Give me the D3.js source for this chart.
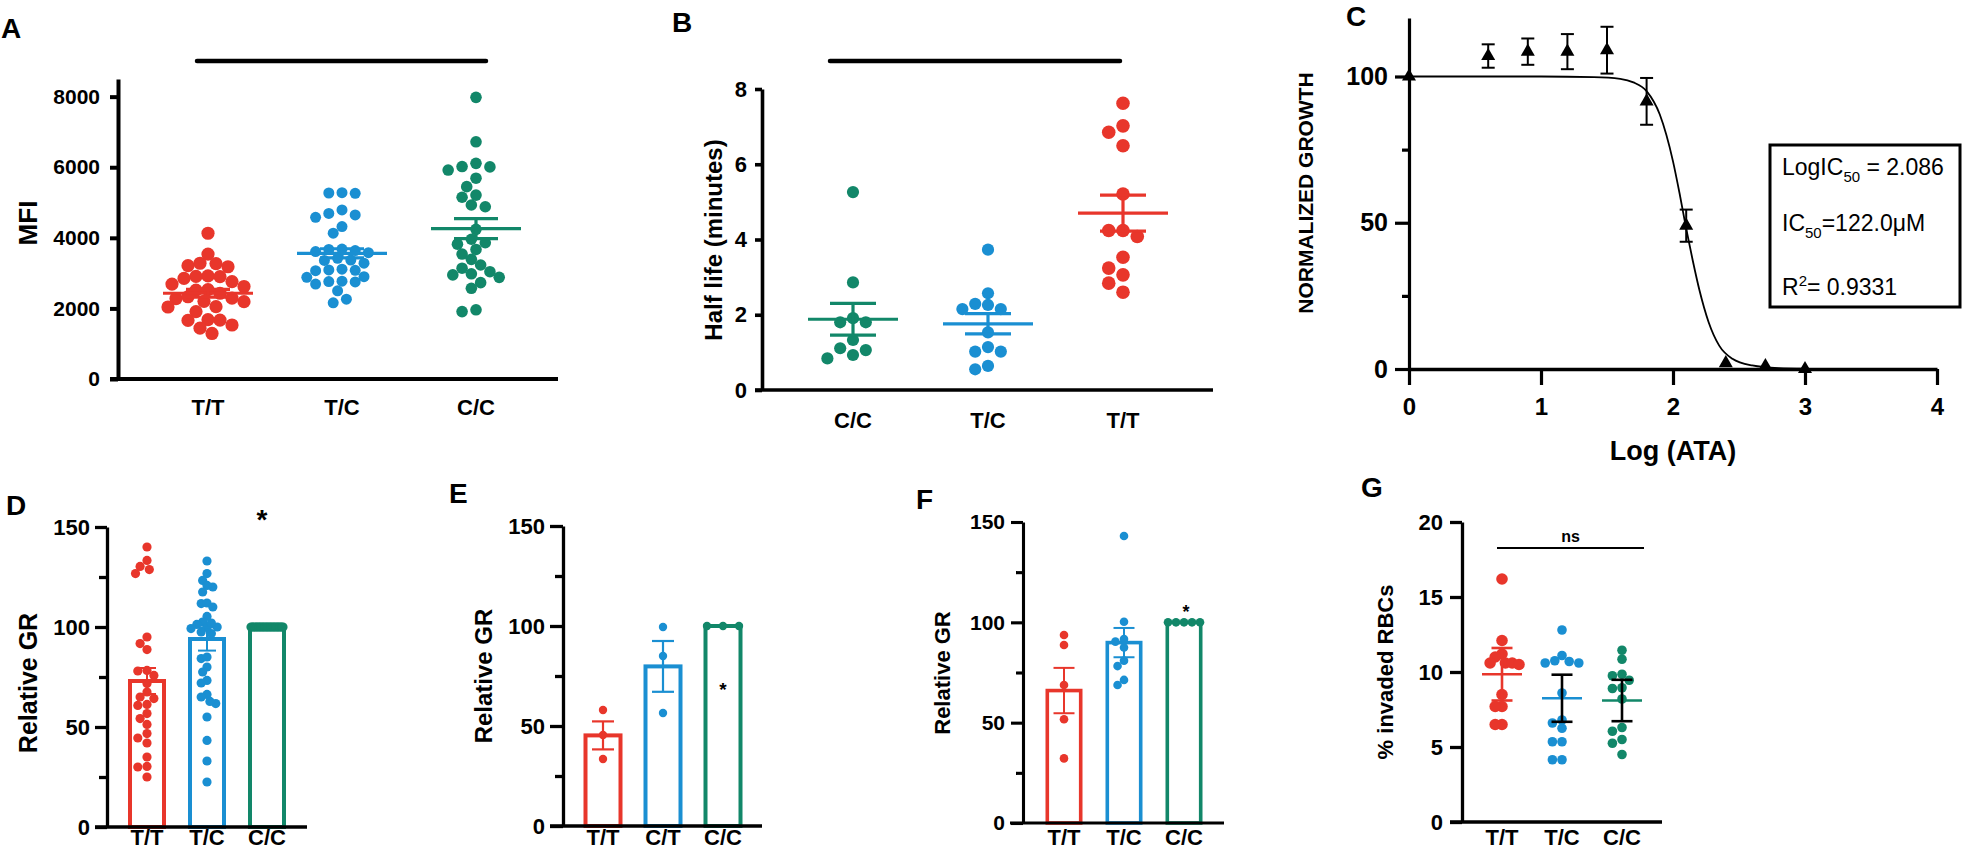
<!DOCTYPE html>
<html><head><meta charset="utf-8">
<script src="https://cdn.jsdelivr.net/npm/d3@7"></script>
<style>body{margin:0;background:#fff} svg{display:block}</style>
</head><body>
<script>
// ================= DATA =================
// Panel A : MFI
const aCats = ["T/T", "T/C", "C/C"];
const aTT = [4130, 3540, 3280, 3180, 3210, 3270, 2920, 2910, 2900, 2850, 2760, 2690, 2520, 2530, 2620, 2430, 2190, 2290, 2280, 2200, 2330, 1910, 2050, 2040, 1670, 1680, 1660, 1440, 1530, 1290];
const aTC = [5280, 5260, 5270, 4690, 4650, 4790, 4580, 4320, 4130, 3610, 3640, 3670, 3680, 3580, 3370, 3280, 3420, 3360, 3090, 3070, 3080, 3110, 2900, 2760, 2750, 2690, 2770, 2880, 2500, 2160, 2260];
const aCC = [7980, 6720, 6020, 6110, 6010, 5920, 5690, 5450, 5210, 5150, 4880, 4930, 4240, 3860, 3960, 3820, 3670, 3540, 3390, 3040, 3140, 3230, 2980, 2950, 2730, 2880, 2570, 1910, 1960];
const aMean = [2430, 3560, 4260];
const aSem = [110, 130, 285];
const aTicks = [0, 2000, 4000, 6000, 8000];

// Panel B : half life
const bCats = ["C/C", "T/C", "T/T"];
const bCC = [5.26, 2.86, 1.91, 1.80, 1.80, 1.33, 1.11, 1.06, 0.93, 0.84];
const bTC = [3.73, 2.57, 2.26, 2.29, 2.15, 2.15, 1.53, 1.02, 1.14, 1.02, 0.55, 0.64];
const bTT = [7.62, 7.02, 6.85, 6.49, 5.21, 4.24, 4.08, 4.24, 3.53, 3.24, 3.06, 2.60, 2.84];
const bMean = [1.88, 1.76, 4.70];
const bSem = [0.42, 0.27, 0.48];
const bTicks = [0, 2, 4, 6, 8];

// Panel C : dose response
const cLogDose = [0, 0.6, 0.9, 1.2, 1.5, 1.8, 2.1, 2.4, 2.7, 3.0];
const cGrowth = [100, 107, 108.5, 108.5, 109, 91.5, 49, 2, 1, 0];
const cSem = [0, 4, 4.5, 6, 8, 8, 5.5, 0, 0, 0];
const cFitLogDose = [0, 0.5, 1.0, 1.4, 1.6, 1.7, 1.8, 1.9, 2.0, 2.05, 2.1, 2.15, 2.2, 2.27, 2.35, 2.45, 2.6, 2.8, 3.0];
const cFitGrowth = [100, 100, 100, 99.8, 99.2, 98, 95, 87, 71, 60, 48, 37, 27, 16, 8, 3.5, 1.2, 0.3, 0.1];
const cYTicks = [0, 50, 100];
const cYMinor = [25, 75];
const cXTicks = [0, 1, 2, 3, 4];

// Panel D : relative GR
const dCats = ["T/T", "T/C", "C/C"];
const dTT = [140, 130.3, 133.3, 128.7, 126.7, 95, 91.7, 88.7, 78.3, 78, 75.8, 71.7, 67.5, 65, 64.2, 61.3, 60.8, 56.7, 54.2, 51.3, 46.7, 44.5, 42, 35, 30.3, 30, 25];
const dTC = [133, 126.7, 123.3, 120, 120.8, 117.5, 111.7, 112, 110, 105.3, 102.5, 99.7, 100, 102, 101.3, 99.2, 97.5, 96.7, 84.2, 85, 80, 77.5, 73.3, 72, 66.3, 65, 61.7, 62.8, 55, 43.3, 33, 22.5];
const dCC = [100, 100, 100, 100, 100, 100, 100, 100, 100, 100, 100, 100, 100, 100, 100, 100, 100, 100, 100, 100, 100, 100, 100, 100];
const dMean = [73, 94, 100];
const dSem = [6.5, 5.8, 0];
const grTicks = [0, 50, 100, 150];
const grMinor = [25, 75, 125];

// Panel E
const eCats = ["T/T", "C/T", "C/C"];
const eTT = [58, 45.5, 33.5];
const eCT = [99.5, 85, 56.5];
const eCC = [100, 100, 100];
const eMean = [45.3, 79.8, 100];
const eSem = [7, 12.7, 0];

// Panel F
const fCats = ["T/T", "T/C", "C/C"];
const fTT = [93.7, 88.7, 68.8, 51.7, 32.2];
const fTC = [143, 100.3, 91.7, 87.5, 90.4, 78.2, 80.9, 68.8, 71.3];
const fCC = [100, 100, 100, 100, 100];
const fMean = [66, 89.9, 100];
const fSem = [11.3, 7.3, 0];

// Panel G : % invaded RBCs
const gCats = ["T/T", "T/C", "C/C"];
const gTT = [16.2, 12.1, 11.2, 11.0, 10.6, 10.6, 10.6, 10.5, 8.5, 7.7, 7.7, 6.5, 6.5];
const gTC = [12.8, 10.6, 10.75, 11.1, 10.6, 10.7, 8.6, 6.8, 6.6, 6.25, 5.35, 5.35, 4.15, 4.15];
const gCC = [11.45, 10.85, 9.75, 9.85, 9.45, 8.9, 8.95, 8.2, 6.05, 6.3, 5.5, 5.25, 4.5];
const gMean = [9.85, 8.25, 8.1];
const gSem = [1.75, 1.57, 1.38];
const gTicks = [0, 5, 10, 15, 20];

// ================= STYLE =================
const FONT = "'Liberation Sans', Arial, Helvetica, sans-serif";
const RED = "#e8362b", BLUE = "#1a8fd2", GREEN = "#128769";

const svg = d3.select("body").append("svg")
  .attr("width", 1963).attr("height", 852)
  .attr("font-family", FONT);

// ================= HELPERS =================
function letter(t, x, y) {
  svg.append("text").attr("x", x).attr("y", y).attr("font-size", 28)
    .attr("font-weight", "bold").text(t);
}
function yAxis(x, scale, ticks, o) {
  const g = svg.append("g").attr("transform", `translate(${x},0)`)
    .call(d3.axisLeft(scale).tickValues(ticks).tickSize(o.tick).tickSizeOuter(0)
      .tickPadding(o.pad).tickFormat(d3.format("d")));
  g.attr("font-family", FONT).attr("font-size", o.fs).attr("font-weight", "bold");
  g.select(".domain").attr("stroke", "#000").attr("stroke-width", o.sw);
  g.selectAll(".tick line").attr("stroke", "#000").attr("stroke-width", o.sw);
  g.selectAll(".tick text").attr("fill", "#000");
  if (o.minor) {
    const m = svg.append("g").attr("transform", `translate(${x},0)`)
      .call(d3.axisLeft(scale).tickValues(o.minor).tickSize(o.minorTick).tickSizeOuter(0).tickFormat(""));
    m.select(".domain").remove();
    m.selectAll(".tick line").attr("stroke", "#000").attr("stroke-width", o.sw);
  }
}
function xLine(x0, x1, y, sw) {
  svg.append("line").attr("x1", x0).attr("x2", x1).attr("y1", y).attr("y2", y)
    .attr("stroke", "#000").attr("stroke-width", sw);
}
function catLabels(xs, cats, y, fs) {
  svg.append("g").selectAll("text").data(cats).join("text")
    .attr("x", d => xs(d)).attr("y", y).attr("text-anchor", "middle")
    .attr("font-size", fs).attr("font-weight", "bold").text(d => d);
}
function yLabel(t, cx, cy, fs, weight) {
  svg.append("text").attr("transform", `translate(${cx},${cy}) rotate(-90)`)
    .attr("text-anchor", "middle").attr("dy", "0.36em")
    .attr("font-size", fs).attr("font-weight", weight || "bold").text(t);
}
function swarm(vals, ys, r, maxHalf, tight, stepK) {
  const n = vals.length;
  if (n > 1 && vals.every(v => v === vals[0])) {
    const sp = d3.scalePoint().domain(d3.range(n)).range([-maxHalf, maxHalf]);
    return vals.map((v, i) => ({ v, dx: sp(i) }));
  }
  const d = 2 * r * tight, step = r * (stepK || 0.5);
  const items = vals.map(v => ({ v, y: ys(v), dx: 0 }));
  const order = items.slice().sort((a, b) => d3.descending(a.v, b.v));
  const placed = [];
  for (const p of order) {
    for (let k = 0; k < 400; k++) {
      const m = Math.ceil(k / 2) * (k % 2 ? -1 : 1);
      const dx = m * step;
      if (placed.every(q => (q.dx - dx) ** 2 + (q.y - p.y) ** 2 >= d * d)) { p.dx = dx; break; }
    }
    placed.push(p);
  }
  const ext = d3.max(items, p => Math.abs(p.dx));
  if (ext > maxHalf) items.forEach(p => p.dx *= maxHalf / ext);
  return items;
}
function drawDots(groups, cats, colors, xs, ys, radii, maxHalf, tight, stepK) {
  groups.forEach((vals, gi) => {
    const r = Array.isArray(radii) ? radii[gi] : radii;
    const pts = swarm(vals, ys, r, maxHalf, tight, stepK);
    svg.append("g").selectAll("circle").data(pts).join("circle")
      .attr("cx", p => xs(cats[gi]) + p.dx).attr("cy", p => ys(p.v))
      .attr("r", r).attr("fill", colors[gi]);
  });
}
function drawMeanSem(cats, means, sems, colors, errColors, xs, ys, meanHalf, capHalf, sw) {
  cats.forEach((c, i) => {
    const g = svg.append("g");
    const x = xs(c);
    if (meanHalf > 0) {
      g.append("line").attr("x1", x - meanHalf).attr("x2", x + meanHalf)
        .attr("y1", ys(means[i])).attr("y2", ys(means[i]))
        .attr("stroke", colors[i]).attr("stroke-width", sw);
    }
    if (sems[i] > 0) {
      const ec = errColors[i];
      const hi = ys(means[i] + sems[i]), lo = ys(means[i] - sems[i]);
      g.append("line").attr("x1", x).attr("x2", x).attr("y1", hi).attr("y2", lo)
        .attr("stroke", ec).attr("stroke-width", sw);
      [hi, lo].forEach(yy => g.append("line").attr("x1", x - capHalf).attr("x2", x + capHalf)
        .attr("y1", yy).attr("y2", yy).attr("stroke", ec).attr("stroke-width", sw));
    }
  });
}
function drawBars(cats, means, colors, xs, ys, halfW, sw) {
  svg.append("g").selectAll("rect").data(cats).join("rect")
    .attr("x", d => xs(d) - halfW + sw / 2).attr("width", 2 * halfW - sw)
    .attr("y", (d, i) => ys(means[i])).attr("height", (d, i) => ys(0) - ys(means[i]))
    .attr("fill", "none").attr("stroke", (d, i) => colors[i]).attr("stroke-width", sw);
}
function star(x, y, fs) {
  svg.append("text").attr("x", x).attr("y", y).attr("text-anchor", "middle")
    .attr("font-size", fs).attr("font-weight", "bold").text("*");
}

// ================= PANEL A =================
{
  const xs = d3.scalePoint().domain(aCats).range([208, 476]);
  const ys = d3.scaleLinear().domain([0, 8500]).range([379, 79]);
  letter("A", 1, 38);
  svg.append("line").attr("x1", xs(aCats[0]) - 11).attr("x2", xs(aCats[2]) + 10)
    .attr("y1", 61).attr("y2", 61).attr("stroke", "#000").attr("stroke-width", 4.5)
    .attr("stroke-linecap", "round");
  drawDots([aTT, aTC, aCC], aCats, [RED, BLUE, GREEN], xs, ys, [6.6, 5.5, 5.8], 40, 0.92, 0.8);
  drawMeanSem(aCats, aMean, aSem, [RED, BLUE, GREEN], [RED, BLUE, GREEN], xs, ys, 45, 22, 3.2);
  yAxis(118, ys, aTicks, { tick: 8, pad: 10, fs: 21, sw: 4 });
  xLine(110, 558, ys(0), 4);
  catLabels(xs, aCats, 415, 22);
  yLabel("MFI", 28, 223, 26);
}

// ================= PANEL B =================
{
  const xs = d3.scalePoint().domain(bCats).range([853, 1123]);
  const ys = d3.scaleLinear().domain([0, 8]).range([390, 89]);
  letter("B", 672, 32);
  svg.append("line").attr("x1", xs(bCats[0]) - 23).attr("x2", xs(bCats[2]) - 3)
    .attr("y1", 61).attr("y2", 61).attr("stroke", "#000").attr("stroke-width", 4.5)
    .attr("stroke-linecap", "round");
  drawDots([bCC, bTC, bTT], bCats, [GREEN, BLUE, RED], xs, ys, [6.1, 6.1, 6.8], 40, 0.95, 2.1);
  drawMeanSem(bCats, bMean, bSem, [GREEN, BLUE, RED], [GREEN, BLUE, RED], xs, ys, 45, 23, 3.2);
  yAxis(762, ys, bTicks, { tick: 7, pad: 8, fs: 22, sw: 3.6 });
  xLine(755, 1213, ys(0), 3.6);
  catLabels(xs, bCats, 428, 22);
  yLabel("Half life (minutes)", 713, 240, 24);
}

// ================= PANEL C =================
{
  const xs = d3.scaleLinear().domain([0, 4]).range([1409, 1937]);
  const ys = d3.scaleLinear().domain([0, 120]).range([369, 18]);
  letter("C", 1346, 26);
  const gx = svg.append("g").attr("transform", `translate(0,${ys(0)})`)
    .call(d3.axisBottom(xs).tickValues(cXTicks).tickSize(16).tickSizeOuter(0).tickPadding(13).tickFormat(d3.format("d")));
  gx.attr("font-family", FONT).attr("font-size", 24).attr("font-weight", "bold");
  gx.select(".domain").attr("stroke", "#000").attr("stroke-width", 3.5);
  gx.selectAll(".tick line").attr("stroke", "#000").attr("stroke-width", 3.2);
  gx.selectAll(".tick text").attr("fill", "#000");
  yAxis(1409, ys, cYTicks, { tick: 14, pad: 7, fs: 25, sw: 3.2, minor: cYMinor, minorTick: 7 });
  const fit = cFitLogDose.map((x, i) => [x, cFitGrowth[i]]);
  svg.append("path").datum(fit)
    .attr("d", d3.line().x(d => xs(d[0])).y(d => ys(d[1])).curve(d3.curveMonotoneX))
    .attr("fill", "none").attr("stroke", "#000").attr("stroke-width", 1.8);
  const pts = cLogDose.map((x, i) => ({ x, y: cGrowth[i], s: cSem[i] }));
  const eg = svg.append("g").attr("stroke", "#000").attr("stroke-width", 2);
  pts.filter(p => p.s > 0).forEach(p => {
    const X = xs(p.x), hi = ys(p.y + p.s), lo = ys(p.y - p.s);
    eg.append("line").attr("x1", X).attr("x2", X).attr("y1", hi).attr("y2", lo);
    [hi, lo].forEach(yy => eg.append("line").attr("x1", X - 6.5).attr("x2", X + 6.5).attr("y1", yy).attr("y2", yy));
  });
  svg.append("g").selectAll("path").data(pts).join("path")
    .attr("transform", p => `translate(${xs(p.x)},${ys(p.y)})`)
    .attr("d", d3.symbol().type(d3.symbolTriangle).size(85)).attr("fill", "#000");
  yLabel("NORMALIZED GROWTH", 1305, 193, 21);
  svg.append("text").attr("x", (xs(0) + xs(4)) / 2).attr("y", 460).attr("text-anchor", "middle")
    .attr("font-size", 27).attr("font-weight", "bold").text("Log (ATA)");
  svg.append("rect").attr("x", 1770).attr("y", 145).attr("width", 190).attr("height", 162)
    .attr("fill", "#fff").attr("stroke", "#000").attr("stroke-width", 3);
  const lines = [
    [["LogIC", 0], ["50", 1], [" = 2.086", 0]],
    [["IC", 0], ["50", 1], ["=122.0\u03bcM", 0]],
    [["R", 0], ["2", -1], ["= 0.9331", 0]]
  ];
  const baselines = [175, 231, 295];
  lines.forEach((parts, li) => {
    const t = svg.append("text").attr("x", 1782).attr("y", baselines[li]).attr("font-size", 23);
    let prev = 0;
    parts.forEach(([s, k]) => {
      const shift = k === 1 ? 7 : k === -1 ? -9 : 0;
      t.append("tspan").attr("dy", shift - prev).attr("font-size", k === 0 ? 23 : 15).text(s);
      prev = shift;
    });
  });
}

// ================= PANEL D =================
{
  const xs = d3.scalePoint().domain(dCats).range([147, 267]);
  const ys = d3.scaleLinear().domain([0, 150]).range([827, 527]);
  letter("D", 6, 515);
  drawBars(dCats, dMean, [RED, BLUE, GREEN], xs, ys, 19, 4);
  drawDots([dTT, dTC, dCC], dCats, [RED, BLUE, GREEN], xs, ys, 4.6, 16, 0.9);
  drawMeanSem(dCats, dMean, dSem, [RED, BLUE, GREEN], [RED, BLUE, GREEN], xs, ys, 0, 9, 2);
  yAxis(107, ys, grTicks, { tick: 12, pad: 5, fs: 22, sw: 3.3, minor: grMinor, minorTick: 8 });
  xLine(95, 307, ys(0), 3.3);
  catLabels(xs, dCats, 845, 22);
  yLabel("Relative GR", 28, 683, 25);
  star(262, 529, 28);
}

// ================= PANEL E =================
{
  const xs = d3.scalePoint().domain(eCats).range([603, 723]);
  const ys = d3.scaleLinear().domain([0, 150]).range([826, 526]);
  letter("E", 449, 503);
  drawBars(eCats, eMean, [RED, BLUE, GREEN], xs, ys, 19.5, 4);
  drawDots([eTT, eCT, eCC], eCats, [RED, BLUE, GREEN], xs, ys, 4.2, 16, 0.9);
  drawMeanSem(eCats, eMean, eSem, [RED, BLUE, GREEN], [RED, BLUE, GREEN], xs, ys, 0, 11, 2.2);
  yAxis(563, ys, grTicks, { tick: 13, pad: 5, fs: 22, sw: 3.3, minor: grMinor, minorTick: 8 });
  xLine(550, 762, ys(0), 3.3);
  catLabels(xs, eCats, 845, 22);
  yLabel("Relative GR", 483, 676, 24);
  star(723, 696, 19);
}

// ================= PANEL F =================
{
  const xs = d3.scalePoint().domain(fCats).range([1064, 1184]);
  const ys = d3.scaleLinear().domain([0, 150]).range([823, 522]);
  letter("F", 916, 509);
  drawBars(fCats, fMean, [RED, BLUE, GREEN], xs, ys, 18.5, 3.6);
  drawDots([fTT, fTC, fCC], fCats, [RED, BLUE, GREEN], xs, ys, 4.3, 16, 0.9);
  drawMeanSem(fCats, fMean, fSem, [RED, BLUE, GREEN], [RED, BLUE, GREEN], xs, ys, 0, 10.5, 2);
  yAxis(1023, ys, grTicks, { tick: 12, pad: 6, fs: 21, sw: 3.1, minor: grMinor, minorTick: 7 });
  xLine(1010, 1224, ys(0), 3.1);
  catLabels(xs, fCats, 845, 22);
  yLabel("Relative GR", 942, 673, 22);
  star(1186, 618, 18);
}

// ================= PANEL G =================
{
  const xs = d3.scalePoint().domain(gCats).range([1502, 1622]);
  const ys = d3.scaleLinear().domain([0, 20]).range([822, 522]);
  letter("G", 1361, 497);
  svg.append("line").attr("x1", xs(gCats[0]) - 5).attr("x2", xs(gCats[2]) + 22)
    .attr("y1", 548).attr("y2", 548).attr("stroke", "#000").attr("stroke-width", 2);
  svg.append("text").attr("x", (xs(gCats[0]) - 5 + xs(gCats[2]) + 22) / 2).attr("y", 542)
    .attr("text-anchor", "middle").attr("font-size", 16).attr("font-weight", "bold").text("ns");
  drawDots([gTT, gTC, gCC], gCats, [RED, BLUE, GREEN], xs, ys, [5.8, 4.8, 4.8], 17, 0.85);
  drawMeanSem(gCats, gMean, gSem, [RED, BLUE, GREEN], [RED, "#000", "#000"], xs, ys, 20, 10.5, 2.6);
  yAxis(1462, ys, gTicks, { tick: 12, pad: 7, fs: 22, sw: 3.3 });
  xLine(1450, 1662, ys(0), 3.3);
  catLabels(xs, gCats, 845, 22);
  yLabel("% invaded RBCs", 1385, 672, 22);
}
</script>
</body></html>
